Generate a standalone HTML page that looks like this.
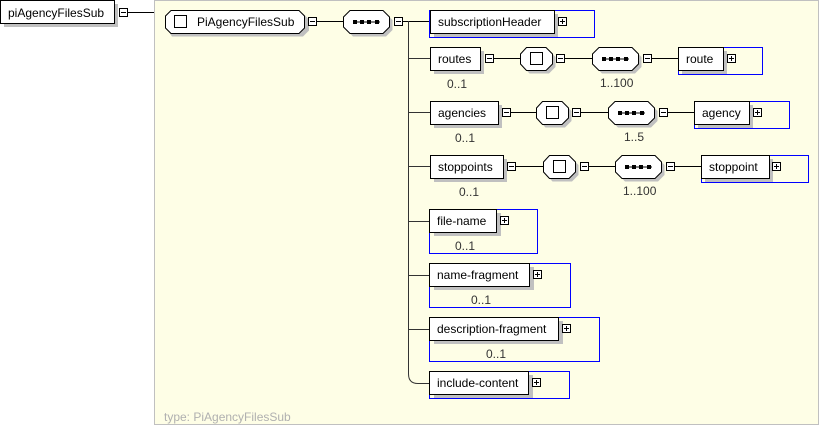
<!DOCTYPE html>
<html><head><meta charset="utf-8"><style>
html,body{margin:0;padding:0;background:#fff;}
svg{display:block;}
text{font-family:"Liberation Sans",sans-serif;font-size:12px;fill:#000;}
.o{font-size:12px;fill:#333;}
</style></head><body>
<svg width="820" height="426" viewBox="0 0 820 426" xmlns="http://www.w3.org/2000/svg">
<defs>
<g id="minus"><rect x="0.5" y="0.5" width="8" height="8" fill="#fff" stroke="#000"/><line x1="2" y1="4.5" x2="7" y2="4.5" stroke="#000"/></g>
<g id="plus"><rect x="0.5" y="0.5" width="8" height="8" fill="#fff" stroke="#000"/><line x1="2" y1="4.5" x2="7" y2="4.5" stroke="#000"/><line x1="4.5" y1="2" x2="4.5" y2="7" stroke="#000"/></g>
<g id="seq"><polygon points="7,0.5 40,0.5 46.5,7 46.5,17 40,23.5 7,23.5 0.5,17 0.5,7" fill="#fff" stroke="#000" transform="translate(0,0)"/><line x1="10" y1="12" x2="37" y2="12" stroke="#000"/><rect x="10" y="10" width="4" height="4"/><rect x="17" y="10" width="4" height="4"/><rect x="24" y="10" width="4" height="4"/><rect x="32" y="10" width="4" height="4"/></g>
<g id="seqs"><polygon points="10,3.5 43,3.5 49.5,10 49.5,20 43,26.5 10,26.5 3.5,20 3.5,10" fill="#c0c0c0"/></g>
<g id="cho"><polygon points="9.5,3.5 29,3.5 35.5,10 35.5,20 29,26.5 9.5,26.5 3.5,20 3.5,10" fill="#c0c0c0"/><polygon points="6.5,0.5 26,0.5 32.5,7 32.5,17 26,23.5 6.5,23.5 0.5,17 0.5,7" fill="#fff" stroke="#000"/><rect x="10.5" y="5.5" width="12" height="12" fill="#fff" stroke="#000"/></g>
</defs>

<!-- root -->
<rect x="4" y="4" width="114" height="23" fill="#c0c0c0"/>
<rect x="0.5" y="0.5" width="114" height="23" fill="#fff" stroke="#000"/>
<text x="8" y="17">piAgencyFilesSub</text>
<use href="#minus" x="119" y="8"/>
<line x1="128" y1="12.5" x2="154" y2="12.5" stroke="#000"/>

<!-- panel -->
<rect x="154.5" y="0.5" width="664" height="424" fill="#fefee6" stroke="#c0c0c0"/>
<text x="164" y="421" style="fill:#b0b0b0">type: PiAgencyFilesSub</text>

<!-- type node -->
<polygon points="172,13.5 303,13.5 309,19.5 309,30.5 303,36.5 172,36.5 168,30.5 168,19.5" fill="#c0c0c0"/>
<polygon points="171,10.5 299,10.5 304.5,16 304.5,28 299,33.5 171,33.5 165.5,28 165.5,16" fill="#fff" stroke="#000"/>
<rect x="174.5" y="15.5" width="12" height="12" fill="#fff" stroke="#000"/>
<text x="197" y="26">PiAgencyFilesSub</text>
<use href="#minus" x="308" y="17"/>
<line x1="317" y1="21.5" x2="343" y2="21.5" stroke="#000"/>
<use href="#seqs" x="343" y="10"/>
<use href="#seq" x="343" y="10"/>
<use href="#minus" x="394" y="17"/>
<line x1="403" y1="21.5" x2="430" y2="21.5" stroke="#000"/>
<path d="M408.5 21 V374 Q408.5 383.5 418 383.5 H430" fill="none" stroke="#333"/>
<line x1="408" y1="58.5" x2="430" y2="58.5" stroke="#333"/>
<line x1="408" y1="112.5" x2="430" y2="112.5" stroke="#333"/>
<line x1="408" y1="166.5" x2="430" y2="166.5" stroke="#333"/>
<line x1="408" y1="221.5" x2="430" y2="221.5" stroke="#333"/>
<line x1="408" y1="275.5" x2="430" y2="275.5" stroke="#333"/>
<line x1="408" y1="329.5" x2="430" y2="329.5" stroke="#333"/>

<!-- subscriptionHeader -->
<rect x="429.5" y="10.5" width="165" height="27" fill="none" stroke="#0000ff"/>
<rect x="434" y="14" width="124" height="23" fill="#c0c0c0"/>
<rect x="430.5" y="10.5" width="124" height="23" fill="#fff" stroke="#000"/>
<text x="438" y="26">subscriptionHeader</text>
<use href="#plus" x="558" y="17"/>

<!-- routes -->
<rect x="434" y="51" width="50" height="23" fill="#c0c0c0"/>
<rect x="430.5" y="47.5" width="50" height="23" fill="#fff" stroke="#000"/>
<text x="438" y="63">routes</text>
<text x="447" y="88" class="o">0..1</text>
<use href="#minus" x="485" y="54"/>
<line x1="494" y1="58.5" x2="520" y2="58.5" stroke="#000"/>
<use href="#cho" x="520" y="47"/>
<use href="#minus" x="556" y="54"/>
<line x1="565" y1="58.5" x2="592" y2="58.5" stroke="#000"/>
<use href="#seqs" x="592" y="47"/>
<use href="#seq" x="592" y="47"/>
<use href="#minus" x="643" y="54"/>
<line x1="652" y1="58.5" x2="678" y2="58.5" stroke="#000"/>
<text x="600" y="87" class="o">1..100</text>
<rect x="678.5" y="47.5" width="84" height="27" fill="none" stroke="#0000ff"/>
<rect x="682" y="51" width="45" height="23" fill="#c0c0c0"/>
<rect x="678.5" y="47.5" width="45" height="23" fill="#fff" stroke="#000"/>
<text x="686" y="63">route</text>
<use href="#plus" x="727" y="54"/>

<!-- agencies -->
<rect x="434" y="105" width="68" height="23" fill="#c0c0c0"/>
<rect x="430.5" y="101.5" width="68" height="23" fill="#fff" stroke="#000"/>
<text x="438" y="117">agencies</text>
<text x="455" y="142" class="o">0..1</text>
<use href="#minus" x="502" y="108"/>
<line x1="511" y1="112.5" x2="536" y2="112.5" stroke="#000"/>
<use href="#cho" x="536" y="101"/>
<use href="#minus" x="572" y="108"/>
<line x1="581" y1="112.5" x2="608" y2="112.5" stroke="#000"/>
<use href="#seqs" x="608" y="101"/>
<use href="#seq" x="608" y="101"/>
<use href="#minus" x="659" y="108"/>
<line x1="668" y1="112.5" x2="694" y2="112.5" stroke="#000"/>
<text x="624" y="141" class="o">1..5</text>
<rect x="694.5" y="101.5" width="95" height="27" fill="none" stroke="#0000ff"/>
<rect x="698" y="105" width="55" height="23" fill="#c0c0c0"/>
<rect x="694.5" y="101.5" width="55" height="23" fill="#fff" stroke="#000"/>
<text x="702" y="117">agency</text>
<use href="#plus" x="753" y="108"/>

<!-- stoppoints -->
<rect x="434" y="159" width="73" height="23" fill="#c0c0c0"/>
<rect x="430.5" y="155.5" width="73" height="23" fill="#fff" stroke="#000"/>
<text x="438" y="171">stoppoints</text>
<text x="459" y="196" class="o">0..1</text>
<use href="#minus" x="507" y="162"/>
<line x1="516" y1="166.5" x2="543" y2="166.5" stroke="#000"/>
<use href="#cho" x="543" y="155"/>
<use href="#minus" x="580" y="162"/>
<line x1="589" y1="166.5" x2="615" y2="166.5" stroke="#000"/>
<use href="#seqs" x="615" y="155"/>
<use href="#seq" x="615" y="155"/>
<use href="#minus" x="666" y="162"/>
<line x1="675" y1="166.5" x2="701" y2="166.5" stroke="#000"/>
<text x="623" y="195" class="o">1..100</text>
<rect x="701.5" y="155.5" width="107" height="27" fill="none" stroke="#0000ff"/>
<rect x="705" y="159" width="68" height="23" fill="#c0c0c0"/>
<rect x="701.5" y="155.5" width="68" height="23" fill="#fff" stroke="#000"/>
<text x="709" y="171">stoppoint</text>
<use href="#plus" x="772" y="162"/>

<!-- file-name -->
<rect x="429.5" y="209.5" width="108" height="44" fill="none" stroke="#0000ff"/>
<rect x="434" y="213" width="67" height="23" fill="#c0c0c0"/>
<rect x="429.5" y="209.5" width="67" height="23" fill="#fff" stroke="#000"/>
<text x="437" y="225">file-name</text>
<use href="#plus" x="500" y="216"/>
<text x="455" y="250" class="o">0..1</text>

<!-- name-fragment -->
<rect x="429.5" y="263.5" width="141" height="44" fill="none" stroke="#0000ff"/>
<rect x="434" y="267" width="100" height="23" fill="#c0c0c0"/>
<rect x="429.5" y="263.5" width="100" height="23" fill="#fff" stroke="#000"/>
<text x="437" y="279">name-fragment</text>
<use href="#plus" x="533" y="270"/>
<text x="471" y="304" class="o">0..1</text>

<!-- description-fragment -->
<rect x="429.5" y="317.5" width="170" height="44" fill="none" stroke="#0000ff"/>
<rect x="434" y="321" width="129" height="23" fill="#c0c0c0"/>
<rect x="429.5" y="317.5" width="129" height="23" fill="#fff" stroke="#000"/>
<text x="437" y="333">description-fragment</text>
<use href="#plus" x="562" y="324"/>
<text x="486" y="358" class="o">0..1</text>

<!-- include-content -->
<rect x="429.5" y="371.5" width="140" height="27" fill="none" stroke="#0000ff"/>
<rect x="434" y="375" width="99" height="23" fill="#c0c0c0"/>
<rect x="429.5" y="371.5" width="99" height="23" fill="#fff" stroke="#000"/>
<text x="437" y="387">include-content</text>
<use href="#plus" x="532" y="378"/>
</svg>
</body></html>
